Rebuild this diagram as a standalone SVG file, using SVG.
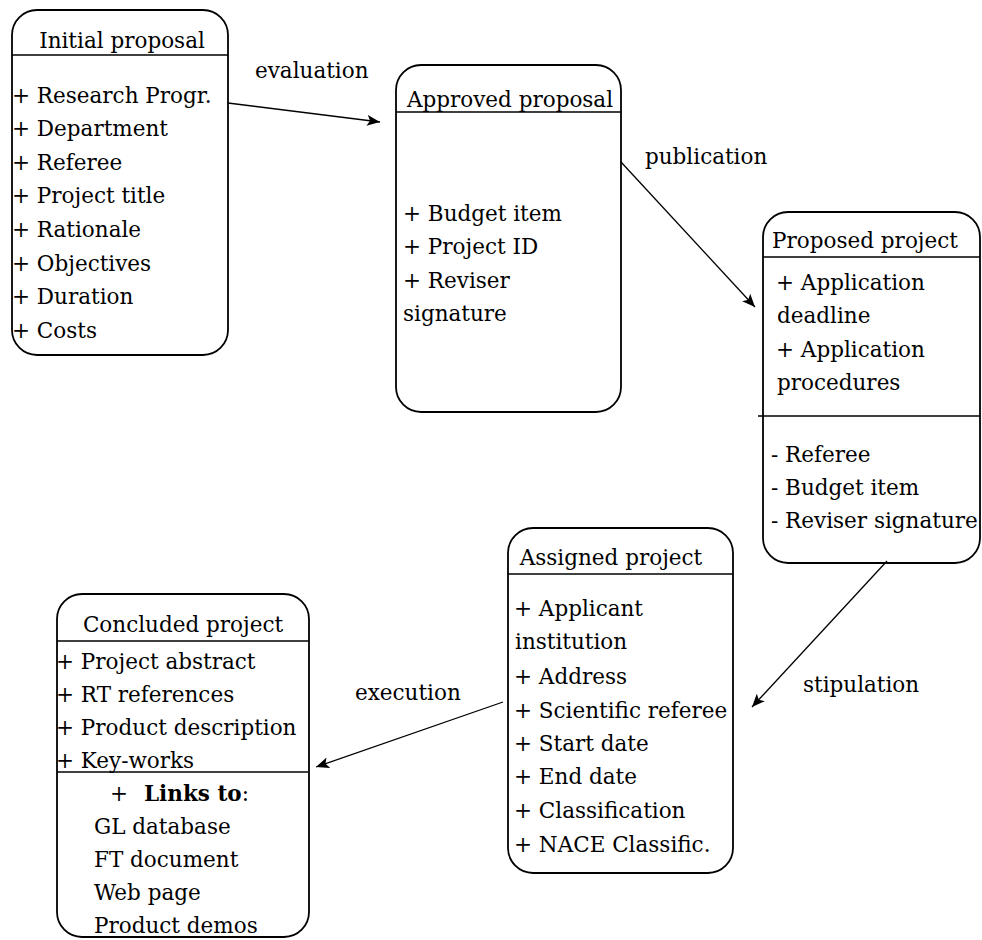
<svg xmlns="http://www.w3.org/2000/svg" width="982" height="940" viewBox="0 0 982 940">
<style>
.box{fill:#fff;stroke:#000;stroke-width:1.8}
.sep{stroke:#000;stroke-width:1.6;fill:none}
.t{font-family:"DejaVu Serif","Liberation Serif",serif;font-size:21.5px;fill:#000}
.title{text-anchor:middle}
.b{font-weight:bold}
.conn{stroke:#000;stroke-width:1.3;fill:none;marker-end:url(#arr)}
</style>
<defs>
<marker id="arr" viewBox="0 0 13 11" markerUnits="userSpaceOnUse" markerWidth="13" markerHeight="11" refX="13" refY="5.5" orient="auto">
<path d="M0,0 L13,5.5 L0,11 L3,5.5 z" fill="#000"/>
</marker>
</defs>
<rect width="982" height="940" fill="#fff"/>

<g id="initial-proposal">
<rect class="box" x="12" y="10" width="216" height="345" rx="25" ry="25"/>
<line class="sep" x1="12" y1="55" x2="228" y2="55"/>
<text class="t title" x="122" y="48">Initial proposal</text>
<text class="t" x="12" y="103">+ Research Progr.</text>
<text class="t" x="12" y="136">+ Department</text>
<text class="t" x="12" y="170">+ Referee</text>
<text class="t" x="12" y="203">+ Project title</text>
<text class="t" x="12" y="237">+ Rationale</text>
<text class="t" x="12" y="271">+ Objectives</text>
<text class="t" x="12" y="304">+ Duration</text>
<text class="t" x="12" y="338">+ Costs</text>
</g>

<g id="approved-proposal">
<rect class="box" x="396" y="65" width="225" height="347" rx="25" ry="25"/>
<line class="sep" x1="396" y1="112" x2="621" y2="112"/>
<text class="t title" x="510" y="107">Approved proposal</text>
<text class="t" x="403" y="221">+ Budget item</text>
<text class="t" x="403" y="254">+ Project ID</text>
<text class="t" x="403" y="288">+ Reviser</text>
<text class="t" x="403" y="321">signature</text>
</g>

<g id="proposed-project">
<rect class="box" x="763" y="212" width="217" height="351" rx="25" ry="25"/>
<line class="sep" x1="763" y1="257" x2="980" y2="257"/>
<line class="sep" x1="758" y1="416" x2="980" y2="416"/>
<text class="t title" x="865" y="248">Proposed project</text>
<text class="t" x="776" y="290">+ Application</text>
<text class="t" x="777" y="323">deadline</text>
<text class="t" x="776" y="357">+ Application</text>
<text class="t" x="777" y="390">procedures</text>
<text class="t" x="771" y="462">- Referee</text>
<text class="t" x="771" y="495">- Budget item</text>
<text class="t" x="771" y="528">- Reviser signature</text>
</g>

<g id="assigned-project">
<rect class="box" x="508" y="528" width="225" height="345" rx="25" ry="25"/>
<line class="sep" x1="508" y1="574" x2="733" y2="574"/>
<text class="t title" x="611" y="565">Assigned project</text>
<text class="t" x="514" y="616">+ Applicant</text>
<text class="t" x="515" y="649">institution</text>
<text class="t" x="514" y="684">+ Address</text>
<text class="t" x="514" y="718">+ Scientific referee</text>
<text class="t" x="514" y="751">+ Start date</text>
<text class="t" x="514" y="784">+ End date</text>
<text class="t" x="514" y="818">+ Classification</text>
<text class="t" x="514" y="852">+ NACE Classific.</text>
</g>

<g id="concluded-project">
<rect class="box" x="57" y="594" width="252" height="343" rx="25" ry="25"/>
<line class="sep" x1="57" y1="641" x2="309" y2="641"/>
<line class="sep" x1="57" y1="772" x2="308" y2="772"/>
<text class="t title" x="183" y="632">Concluded project</text>
<text class="t" x="56" y="669">+ Project abstract</text>
<text class="t" x="56" y="702">+ RT references</text>
<text class="t" x="56" y="735">+ Product description</text>
<text class="t" x="56" y="768">+ Key-works</text>
<text class="t" x="110" y="801">+ <tspan class="b" x="144">Links to</tspan>:</text>
<text class="t" x="94" y="834">GL database</text>
<text class="t" x="94" y="867">FT document</text>
<text class="t" x="94" y="900">Web page</text>
<text class="t" x="94" y="933">Product demos</text>
</g>

<g id="connectors">
<line class="conn" x1="228" y1="103" x2="380" y2="122"/>
<text class="t" x="255" y="78">evaluation</text>
<line class="conn" x1="621" y1="162" x2="755" y2="307"/>
<text class="t" x="645" y="164">publication</text>
<line class="conn" x1="887" y1="561" x2="752" y2="707"/>
<text class="t" x="803" y="692">stipulation</text>
<line class="conn" x1="503" y1="702" x2="316" y2="767"/>
<text class="t" x="355" y="700">execution</text>
</g>
</svg>
